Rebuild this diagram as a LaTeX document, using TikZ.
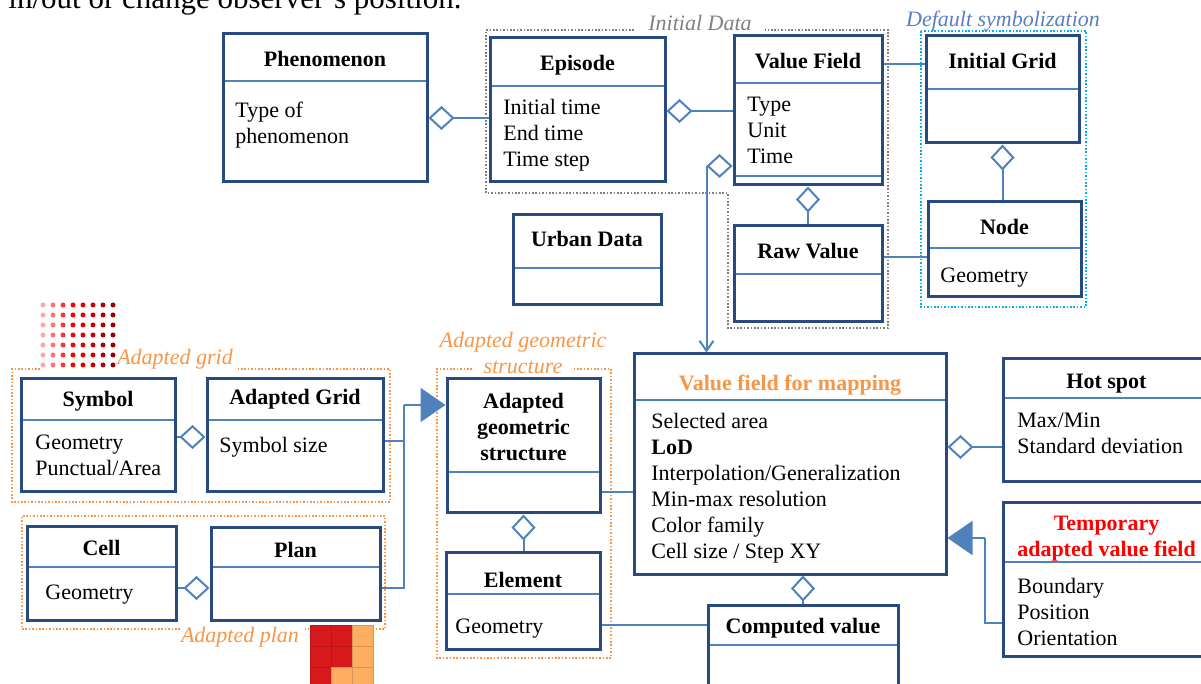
\documentclass[tikz,border=0pt]{standalone}
\usepackage{fontspec}
\setmainfont{Liberation Serif}
\usetikzlibrary{arrows.meta}
\usetikzlibrary{fit}
\usetikzlibrary{shapes.geometric}

\definecolor{clsblue}{HTML}{284A80}
\definecolor{linkblue}{HTML}{4F81BD}
\definecolor{grporange}{HTML}{F79646}
\definecolor{grpgray}{HTML}{808080}
\definecolor{grpcyan}{HTML}{00B0F0}
\definecolor{lblblue}{HTML}{5A7EC0}
\definecolor{cellred}{HTML}{D7191C}
\definecolor{cellorange}{HTML}{FDAE61}

\newcommand\diafont{\fontsize{11}{13}\selectfont}

\tikzset{
  aggtip/.tip={Diamond[open,length=13pt,width=12pt]},
  gentip/.tip={Triangle[length=12.5pt,width=17pt]},
  navtip/.tip={Straight Barb[length=5pt,width=7pt]},
}

\begin{document}
\begin{tikzpicture}[x=0.5pt, y=-0.5pt,
  every node/.style={font=\diafont},
  cls/.style={draw=clsblue, line width=1.5pt, inner sep=0pt, fill=white},
  clssep/.style={draw=linkblue, line width=0.8pt, shorten <=1.5pt, shorten >=1.5pt},
  ttl/.style={anchor=base, inner sep=0pt, font=\diafont\bfseries},
  ttltwo/.style={anchor=north, align=center, inner sep=0pt, yshift=-1.8pt, font=\diafont\bfseries, execute at begin node=\strut},
  att/.style={anchor=north west, align=left, inner sep=0pt, yshift=-2pt, execute at begin node=\strut},
  link/.style={draw=linkblue, line width=1pt},
  aggnode/.style={shape=diamond, draw=linkblue, line width=1pt, fill=white, inner sep=0pt, minimum width=12pt, minimum height=11pt},
  grp/.style={line width=0.8pt, dash pattern=on 0.8pt off 0.9pt},
  grplbl/.style={font=\diafont\itshape, inner sep=0pt}]
\useasboundingbox (0,0) rectangle (1201,684);
\clip (0,0) rectangle (1201,684);

% cut-off line of the running text above
\node[anchor=base west, inner sep=0pt, font=\fontsize{15.5}{18}\selectfont] (runtext) at (8,9) {in/out or change observer's position.};

% groups
\draw[grp, draw=grpgray] (634,30) -- (486,30) -- (486,193) -- (728,193) -- (728,328) -- (888,328) -- (888,30) -- (765,30);
\draw[grp, draw=grpcyan] (921,31) rectangle (1086,307);
\draw[grp, draw=grporange] (40,369) -- (12,369) -- (12,502) -- (390,502) -- (390,369) -- (236,369);
\draw[grp, draw=grporange] (180,629) -- (22,629) -- (22,516) -- (385,516) -- (385,629) -- (305,629);
\draw[grp, draw=grporange] (472,369) -- (437,369) -- (437,658) -- (611,658) -- (611,369) -- (573,369);

\node[grplbl, text=grpgray] (initlbl) at (700,23) {Initial Data};
\node[grplbl, text=lblblue] (deflbl) at (1003,21) {Default symbolization};
\node[grplbl, text=grporange] (gridlbl) at (175,359) {Adapted grid};
\node[grplbl, text=grporange] (planlbl) at (240,637) {Adapted plan};
\node[grplbl, text=grporange, align=center] (agslbl) at (523,353) {Adapted geometric\\structure};

% grid icon (dots)
\foreach \c [count=\i from 0] in {red!35, red!55, red!80, red, red!90!black, red!80!black, red!70!black, red!60!black}
  \foreach \j in {0,...,6}
    \fill[\c] (43+10*\i, 305+10*\j) circle (1.25pt);

% plan icon (cells)
\foreach \col/\row/\c in {0/0/cellred, 1/0/cellred, 2/0/cellorange, 0/1/cellred, 1/1/cellred, 2/1/cellorange, 0/2/cellred, 1/2/cellorange, 2/2/cellorange}
  \filldraw[fill=\c, draw=\c!85!black, line width=0.4pt] (310+21*\col, 625+21*\row) rectangle ++(21,21);

% classes
\node[cls, fit={(223,34) (427,182)}] (phen) {};
\draw[clssep] (phen.west |- 0,81) -- (phen.east |- 0,81);
\node[ttl] (phen-t) at (phen.center |- 0,67) {Phenomenon};
\node[att] (phen-a) at (235,98) {Type of\\phenomenon};

\node[cls, fit={(490,38) (665,182)}] (epis) {};
\draw[clssep] (epis.west |- 0,86) -- (epis.east |- 0,86);
\node[ttl] (epis-t) at (epis.center |- 0,71) {Episode};
\node[att] (epis-a) at (503,95) {Initial time\\End time\\Time step};

\node[cls, fit={(734,36) (882,185)}] (vf) {};
\draw[clssep] (vf.west |- 0,83) -- (vf.east |- 0,83);
\draw[clssep] (vf.west |- 0,176) -- (vf.east |- 0,176);
\node[ttl] (vf-t) at (vf.center |- 0,69) {Value Field};
\node[att] (vf-a) at (747,93) {Type\\Unit\\Time};

\node[cls, fit={(926,36) (1079,143)}] (igrid) {};
\draw[clssep] (igrid.west |- 0,89) -- (igrid.east |- 0,89);
\node[ttl] (igrid-t) at (igrid.center |- 0,69) {Initial Grid};

\node[cls, fit={(928,202) (1081,297)}] (node) {};
\draw[clssep] (node.west |- 0,248) -- (node.east |- 0,248);
\node[ttl] (node-t) at (node.center |- 0,235) {Node};
\node[att] (node-a) at (940,260) {Geometry};

\node[cls, fit={(734,226) (882,322)}] (raw) {};
\draw[clssep] (raw.west |- 0,274) -- (raw.east |- 0,274);
\node[ttl] (raw-t) at (raw.center |- 0,259) {Raw Value};

\node[cls, fit={(513,215) (661,305)}] (urban) {};
\draw[clssep] (urban.west |- 0,268) -- (urban.east |- 0,268);
\node[ttl] (urban-t) at (urban.center |- 0,247) {Urban Data};

\node[cls, fit={(21,379) (175,492)}] (symbol) {};
\draw[clssep] (symbol.west |- 0,420) -- (symbol.east |- 0,420);
\node[ttl] (symbol-t) at (symbol.center |- 0,407) {Symbol};
\node[att] (symbol-a) at (35,431) {Geometry\\Punctual/Area};

\node[cls, fit={(207,379) (383,492)}] (agrid) {};
\draw[clssep] (agrid.west |- 0,420) -- (agrid.east |- 0,420);
\node[ttl] (agrid-t) at (agrid.center |- 0,405) {Adapted Grid};
\node[att] (agrid-a) at (219,430) {Symbol size};

\node[cls, fit={(27,527) (176,620)}] (cell) {};
\draw[clssep] (cell.west |- 0,567) -- (cell.east |- 0,567);
\node[ttl] (cell-t) at (cell.center |- 0,555) {Cell};
\node[att] (cell-a) at (45,577) {Geometry};

\node[cls, fit={(211,528) (380,620)}] (plan) {};
\draw[clssep] (plan.west |- 0,567) -- (plan.east |- 0,567);
\node[ttl] (plan-t) at (plan.center |- 0,558) {Plan};

\node[cls, fit={(447,379) (600,513)}] (ags) {};
\draw[clssep] (ags.west |- 0,472) -- (ags.east |- 0,472);
\node[ttltwo] (ags-t) at (ags.center |- 0,389) {Adapted\\geometric\\structure};

\node[cls, fit={(446,553) (600,649)}] (elem) {};
\draw[clssep] (elem.west |- 0,594) -- (elem.east |- 0,594);
\node[ttl] (elem-t) at (elem.center |- 0,588) {Element};
\node[att] (elem-a) at (455,611) {Geometry};

\node[cls, fit={(634,354) (946,574)}] (vfm) {};
\draw[clssep] (vfm.west |- 0,400) -- (vfm.east |- 0,400);
\node[ttl, text=grporange] (vfm-t) at (vfm.center |- 0,391) {Value field for mapping};
\node[att] (vfm-a) at (651,409) {Selected area\\\textbf{LoD}\\Interpolation/Generalization\\Min-max resolution\\Color family\\Cell size / Step XY};

\node[cls, fit={(1003,359) (1210,482)}] (hot) {};
\draw[clssep] (hot.west |- 0,398) -- (hot.east |- 0,398);
\node[ttl] (hot-t) at (hot.center |- 0,389) {Hot spot};
\node[att] (hot-a) at (1017,409) {Max/Min\\Standard deviation};

\node[cls, fit={(1003,503) (1210,656)}] (temp) {};
\draw[clssep] (temp.west |- 0,562) -- (temp.east |- 0,562);
\node[ttltwo, text=red] (temp-t) at (temp.center |- 0,512) {Temporary\\adapted value field};
\node[att] (temp-a) at (1017,574) {Boundary\\Position\\Orientation};

\node[cls, fit={(708,605) (898,700)}] (comp) {};
\draw[clssep] (comp.west |- 0,645) -- (comp.east |- 0,645);
\node[ttl] (comp-t) at (comp.center |- 0,633) {Computed value};

% links
\draw[link, aggtip-] (phen.east |- 0,118) -- (epis.west |- 0,118);
\draw[link, aggtip-] (epis.east |- 0,111) -- (vf.west |- 0,111);
\draw[link] (vf.east |- 0,64) -- (igrid.west |- 0,64);
\draw[link, aggtip-] (igrid.south) -- (igrid.south |- node.north);
\draw[link, aggtip-] (vf.south) -- (vf.south |- raw.north);
\draw[link] (raw.east |- 0,257) -- (node.west |- 0,257);
\node[aggnode, anchor=east] (vfd) at (vf.west |- 0,166) {};
\draw[link, -navtip] (vfd.west) -- (vfd.west |- vfm.north);

\draw[link, -aggtip] (symbol.east |- 0,437) -- (agrid.west |- 0,437);
\draw[link, -aggtip] (cell.east |- 0,588) -- (plan.west |- 0,588);
\coordinate (gjoin) at (404,405);
\draw[link] (agrid.east |- 0,441) -| (gjoin);
\draw[link] (plan.east |- 0,588) -| (gjoin);
\draw[link, -gentip] (gjoin) -- (ags.west |- gjoin);
\draw[link, aggtip-] (ags.south) -- (ags.south |- elem.north);
\draw[link] (ags.east |- 0,492) -- (vfm.west |- 0,492);
\draw[link] (elem.east |- 0,625) -- (comp.west |- 0,625);

\draw[link, aggtip-] (vfm.east |- 0,447) -- (hot.west |- 0,447);
\coordinate (tbend) at (985,538);
\draw[link] (temp.west |- 0,623) -| (tbend);
\draw[link, -gentip] (tbend) -- (vfm.east |- tbend);
\draw[link, aggtip-] (comp.north |- vfm.south) -- (comp.north);
\end{tikzpicture}
\end{document}
